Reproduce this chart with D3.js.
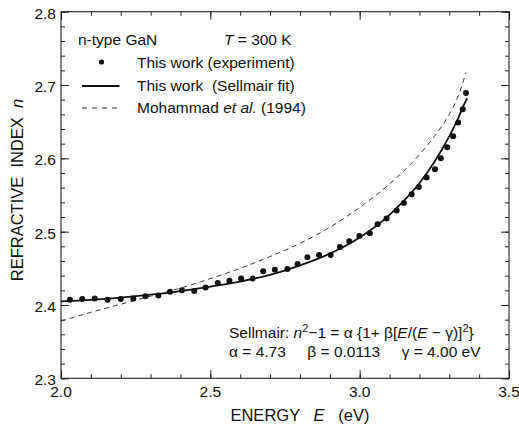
<!DOCTYPE html>
<html><head><meta charset="utf-8">
<script src="https://cdn.jsdelivr.net/npm/d3@7"></script>
<style>
html,body{margin:0;padding:0;background:#fff;}
svg text{font-family:"Liberation Sans",Arial,Helvetica,sans-serif;fill:#111;white-space:pre;}
</style></head>
<body><svg id="c" width="519" height="431"></svg>
<script>
// Experimental points (This work)
const expE = [2.030,2.071,2.113,2.156,2.200,2.242,2.283,2.326,2.365,2.405,2.446,2.484,2.525,2.564,2.603,2.642,2.677,2.716,2.758,2.792,2.825,2.864,2.903,2.934,2.965,2.999,3.034,3.060,3.090,3.124,3.148,3.174,3.198,3.224,3.252,3.272,3.293,3.313,3.330,3.345,3.356];
const expN = [2.407,2.408,2.409,2.407,2.408,2.409,2.412,2.413,2.418,2.420,2.419,2.424,2.430,2.433,2.436,2.436,2.446,2.448,2.449,2.456,2.465,2.468,2.468,2.479,2.487,2.494,2.498,2.510,2.518,2.529,2.539,2.551,2.561,2.574,2.585,2.600,2.615,2.630,2.649,2.667,2.689];
// Sellmair fit curve
const fitE = [2.00,2.10,2.20,2.30,2.40,2.50,2.60,2.70,2.80,2.90,3.00,3.10,3.15,3.20,3.25,3.30,3.33,3.35,3.36];
const fitN = [2.405,2.407,2.410,2.414,2.419,2.425,2.432,2.441,2.454,2.470,2.492,2.523,2.543,2.566,2.595,2.630,2.655,2.674,2.682];
// Mohammad et al. (1994)
const mohE = [2.00,2.10,2.20,2.30,2.40,2.50,2.60,2.70,2.80,2.90,3.00,3.10,3.20,3.25,3.30,3.33,3.356];
const mohN = [2.378,2.390,2.401,2.412,2.423,2.436,2.450,2.466,2.484,2.506,2.533,2.565,2.605,2.630,2.660,2.685,2.717];
// Axis ticks
const xTicks = [2.0,2.5,3.0,3.5];
const xTickLabels = ["2.0","2.5","3.0","3.5"];
const yTicks = [2.3,2.4,2.5,2.6,2.7,2.8];
const yTickLabels = ["2.3","2.4","2.5","2.6","2.7","2.8"];

const L=61,R=509,T=11.7,B=378.3;
const svg=d3.select("#c");
const x=d3.scaleLinear().domain([2.0,3.5]).range([L,R]);
const y=d3.scaleLinear().domain([2.3,2.8]).range([B,T]);
const FS=15.5;

const xMinor=d3.range(2.0,3.5001,0.1).map(v=>+v.toFixed(2));
const yMinor=d3.range(2.3,2.8001,0.02).map(v=>+v.toFixed(2));

// Axes via d3 axes (ticks inward)
const mk=(ax)=>ax.tickFormat("").tickSizeOuter(0);
svg.append("g").attr("transform",`translate(0,${B})`).call(mk(d3.axisBottom(x).tickValues(xMinor).tickSizeInner(-4)));
svg.append("g").attr("transform",`translate(0,${T})`).call(mk(d3.axisTop(x).tickValues(xMinor).tickSizeInner(-4)));
svg.append("g").attr("transform",`translate(${L},0)`).call(mk(d3.axisLeft(y).tickValues(yMinor).tickSizeInner(-4)));
svg.append("g").attr("transform",`translate(${R},0)`).call(mk(d3.axisRight(y).tickValues(yMinor).tickSizeInner(-4)));
svg.append("g").attr("transform",`translate(0,${B})`).call(mk(d3.axisBottom(x).tickValues(xTicks).tickSizeInner(-8)));
svg.append("g").attr("transform",`translate(0,${T})`).call(mk(d3.axisTop(x).tickValues(xTicks).tickSizeInner(-8)));
svg.append("g").attr("transform",`translate(${L},0)`).call(mk(d3.axisLeft(y).tickValues(yTicks).tickSizeInner(-8)));
svg.append("g").attr("transform",`translate(${R},0)`).call(mk(d3.axisRight(y).tickValues(yTicks).tickSizeInner(-8)));
svg.selectAll(".domain").remove();
svg.selectAll(".tick line").attr("stroke","#222").attr("stroke-width",1);
svg.append("rect").attr("x",L).attr("y",T).attr("width",R-L).attr("height",B-T)
  .attr("fill","none").attr("stroke","#222").attr("stroke-width",1.1);

// tick labels
svg.append("g").selectAll("text").data(xTicks).join("text")
  .attr("x",d=>x(d)).attr("y",B+19).attr("text-anchor","middle").attr("font-size",FS)
  .text((d,i)=>xTickLabels[i]);
svg.append("g").selectAll("text").data(yTicks).join("text")
  .attr("x",L-5).attr("y",d=>y(d)+7).attr("text-anchor","end").attr("font-size",FS)
  .text((d,i)=>yTickLabels[i]);

// axis titles
const xt=svg.append("text").attr("x",300).attr("y",421).attr("text-anchor","middle").attr("font-size",16.5);
xt.append("tspan").text("ENERGY   ");
xt.append("tspan").attr("font-style","italic").text("E");
xt.append("tspan").text("   (eV)");
const yt=svg.append("text").attr("transform","translate(23,190) rotate(-90)").attr("text-anchor","middle").attr("font-size",16.5);
yt.append("tspan").text("REFRACTIVE  INDEX  ");
yt.append("tspan").attr("font-style","italic").text("n");

// curves
const line=d3.line().x(d=>x(d[0])).y(d=>y(d[1])).curve(d3.curveMonotoneX);
svg.append("path").datum(mohE.map((e,i)=>[e,mohN[i]])).attr("d",line)
  .attr("fill","none").attr("stroke","#222").attr("stroke-width",0.9).attr("stroke-dasharray","5,4");
svg.append("path").datum(fitE.map((e,i)=>[e,fitN[i]])).attr("d",line)
  .attr("fill","none").attr("stroke","#111").attr("stroke-width",1.8);
svg.append("g").selectAll("circle").data(expE.map((e,i)=>[e,expN[i]])).join("circle")
  .attr("cx",d=>x(d[0])).attr("cy",d=>y(d[1])).attr("r",3).attr("fill","#111");

// legend
svg.append("text").attr("x",78).attr("y",45).attr("font-size",FS).text("n-type GaN");
const tt=svg.append("text").attr("x",224).attr("y",45).attr("font-size",FS);
tt.append("tspan").attr("font-style","italic").text("T");
tt.append("tspan").text(" = 300 K");
svg.append("circle").attr("cx",101.5).attr("cy",62).attr("r",2.6).attr("fill","#111");
svg.append("text").attr("x",137).attr("y",68).attr("font-size",FS).text("This work (experiment)");
svg.append("line").attr("x1",82).attr("x2",119.5).attr("y1",86).attr("y2",86).attr("stroke","#111").attr("stroke-width",1.8);
svg.append("text").attr("x",137).attr("y",91).attr("font-size",FS).text("This work  (Sellmair fit)");
svg.append("line").attr("x1",82).attr("x2",120).attr("y1",108).attr("y2",108).attr("stroke","#222").attr("stroke-width",0.9).attr("stroke-dasharray","5,5");
const mt=svg.append("text").attr("x",137).attr("y",113).attr("font-size",FS);
mt.append("tspan").text("Mohammad ");
mt.append("tspan").attr("font-style","italic").text("et al.");
mt.append("tspan").text(" (1994)");

// Sellmair formula
const s1=svg.append("text").attr("x",229).attr("y",338).attr("font-size",FS);
s1.append("tspan").text("Sellmair: ");
s1.append("tspan").attr("font-style","italic").text("n");
s1.append("tspan").attr("dy",-6).attr("font-size",11).text("2");
s1.append("tspan").attr("dy",6).text("\u22121 = \u03b1 {1+ \u03b2[");
s1.append("tspan").attr("font-style","italic").text("E");
s1.append("tspan").text("/(");
s1.append("tspan").attr("font-style","italic").text("E");
s1.append("tspan").text(" \u2212 \u03b3)]");
s1.append("tspan").attr("dy",-6).attr("font-size",11).text("2");
s1.append("tspan").attr("dy",6).text("}");
svg.append("text").attr("x",229).attr("y",357).attr("font-size",FS)
  .text("\u03b1 = 4.73     \u03b2 = 0.0113     \u03b3 = 4.00 eV");
</script></body></html>
